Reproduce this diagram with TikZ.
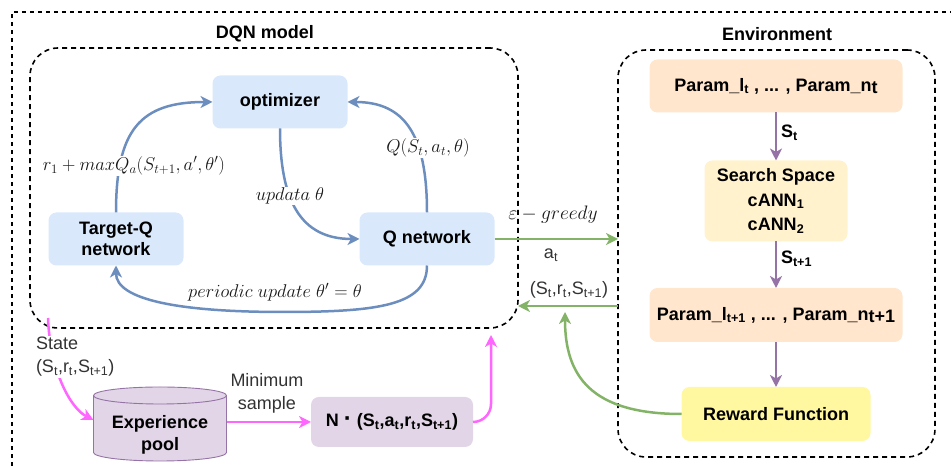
\RequirePackage{fix-cm}
\documentclass[tikz,border=0pt]{standalone}
\usepackage{fontspec}
\setmainfont{Liberation Sans}
\usetikzlibrary{arrows.meta,calc}
\definecolor{bluefill}{HTML}{DAE8FC}
\definecolor{bluearrow}{HTML}{6C8EBF}
\definecolor{orangefill}{HTML}{FFE6CC}
\definecolor{searchfill}{HTML}{FFF2CC}
\definecolor{rewardfill}{HTML}{FFF8A0}
\definecolor{purplefill}{HTML}{E1D5E7}
\definecolor{purpleline}{HTML}{9673A6}
\definecolor{greenline}{HTML}{82B366}
\definecolor{pinkline}{HTML}{FF66FF}
\definecolor{labelgray}{HTML}{333333}
\begin{document}
\begin{tikzpicture}[x=1pt,y=1pt,
  every node/.style={inner sep=0pt, outer sep=0pt},
  bf/.style={font=\fontsize{18}{21}\selectfont\bfseries, text=black},
  rg/.style={font=\fontsize{18}{23}\selectfont, text=labelgray},
  mathlbl/.style={font=\fontsize{18.5}{21}\selectfont, text=black!90, fill=white, inner sep=1pt},
  box/.style={bf, rounded corners=8pt, align=center},
  bluebox/.style={box, fill=bluefill, minimum width=135pt, minimum height=53pt},
  orangebox/.style={box, fill=orangefill, minimum width=253pt, minimum height=53pt},
  container/.style={draw=black, dash pattern=on 5pt off 4pt, line width=1.6pt, rounded corners=28pt},
  tip/.style={-{Stealth[length=12pt,width=12pt,inset=3.5pt]}},
  bluearr/.style={tip, draw=bluearrow, line width=2.5pt},
  greenarr/.style={tip, draw=greenline, line width=2.5pt},
  purplearr/.style={tip, draw=purpleline, line width=2.5pt},
  pinkarr/.style={tip, draw=pinkline, line width=2.5pt},
]
\useasboundingbox (0,0) rectangle (951,470);

% outer frame (runs past the right and bottom edges)
\draw[black, dash pattern=on 4pt off 4pt, line width=1.4pt] (12,-20) -- (12,458) -- (990,458);

% containers
\node[container, minimum width=488pt, minimum height=280pt] (dqn) at (274,282) {};
\node[container, minimum width=317pt, minimum height=407pt] (env) at (776.5,216.5) {};
\node[bf] (dqntitle) at (265,436) {DQN model};
\node[bf] (envtitle) at (777,436) {Environment};

% DQN model
\node[bluebox] (opt) at (280,368) {optimizer};
\node[bluebox] (tq) at (116,231) {Target-Q\\network};
\node[bluebox] (qn) at (427,231) {Q network};

% environment
\node[orangebox] (p1) at (776,384) {Param\_l\textsubscript{t} , ... , Param\_n\raisebox{-2.5pt}{t}};
\node[box, fill=searchfill, minimum width=143pt, minimum height=81pt, font=\fontsize{18}{24.5}\selectfont\bfseries] (ss) at (776,269) {Search Space\\cANN\textsubscript{1}\\cANN\textsubscript{2}};
\node[orangebox, minimum height=54pt] (p2) at (776,155) {Param\_l\textsubscript{t+1} , ... , Param\_n\raisebox{-2.5pt}{t+1}};
\node[box, fill=rewardfill, minimum width=189pt, minimum height=54pt] (rw) at (776,56) {Reward Function};

% experience pool cylinder
\filldraw[fill=purplefill, draw=purpleline, line width=0.9pt]
  (93.5,74.5) -- (93.5,17.5) arc[start angle=180, end angle=360, x radius=66.5pt, y radius=8.5pt]
  -- (226.5,74.5) arc[start angle=0, end angle=180, x radius=66.5pt, y radius=8.5pt] -- cycle;
\draw[purpleline, line width=0.9pt] (93.5,74.5) arc[start angle=180, end angle=360, x radius=66.5pt, y radius=8.5pt];
\node[minimum width=133pt, minimum height=74pt] (pool) at (160,46) {};
\node[box, font=\fontsize{18}{22}\selectfont\bfseries] (pooltext) at (160,35) {Experience\\pool};
\node[box, fill=purplefill, minimum width=162pt, minimum height=50pt] (nb) at (392,48) {N {\fontsize{24}{24}\selectfont ·} (S\textsubscript{t},a\textsubscript{t},r\textsubscript{t},S\textsubscript{t+1})};

% helper coordinates
\coordinate (retline) at (0,164);
\coordinate (rewin) at (565,158);
\coordinate (pinkup) at (491,135);
\coordinate (statestart) at (48,152);

% blue loop
\draw[bluearr] (tq.north) .. controls (116,340) and (140,368) .. (opt.west);
\draw[bluearr] (qn.north) .. controls (427,335) and (405,368) .. (opt.east);
\draw[bluearr] (opt.south) .. controls (280,270) and (300,231) .. (qn.west);
\draw[bluearr] (qn.south) .. controls (427,165) and (380,158) .. (283,158)
  .. controls (180,158) and (116,170) .. (tq.south);

% green exchange
\draw[greenarr] (qn.east) -- (qn.east -| env.west);
\draw[greenarr] (env.west |- retline) -- (dqn.east |- retline);
\draw[greenarr] (rw.west) .. controls (590,56) and (565,95) .. (rewin);

% purple chain
\draw[purplearr] (p1.south) -- node[bf, right=5pt, yshift=4pt] (stlbl) {S\textsubscript{t}} (ss.north);
\draw[purplearr] (ss.south) -- node[bf, right=5pt, yshift=6pt] (st1lbl) {S\textsubscript{t+1}} (p2.north);
\draw[purplearr] (p2.south) -- (rw.north);

% pink replay path
\draw[pinkarr] (statestart) .. controls (50,100) and (70,62) .. ([yshift=4pt]pool.west);
\draw[pinkarr] (pool.east |- nb.west) -- (nb.west);
\draw[pinkarr, rounded corners=18pt] (nb.east) -| (pinkup);

% edge labels
\node[mathlbl] (l1) at (134,304) {$r_1 + maxQ_a(S_{t+1},a',\theta')$};
\node[mathlbl] (l2) at (428,322) {$Q(S_t,a_t,\theta)$};
\node[mathlbl] (l3) at (290,274) {$updata\ \theta$};
\node[mathlbl, fill=none] (l4) at (275,178) {$periodic\ update\ \theta' = \theta$};
\node[mathlbl, fill=none, font=\fontsize{19.5}{22}\selectfont] (l5) at (553,255) {$\varepsilon - greedy$};
\node[rg] (l6) at (551,215) {a\textsubscript{t}};
\node[rg] (l7) at (569,180) {(S\textsubscript{t},r\textsubscript{t},S\textsubscript{t+1})};
\node[rg, align=left, fill=white, anchor=west, inner sep=1pt] (statelbl) at (35,113) {State\\(S\textsubscript{t},r\textsubscript{t},S\textsubscript{t+1})};
\node[rg, align=center] (minlbl) at (267,77) {Minimum\\sample};
\end{tikzpicture}
\end{document}
